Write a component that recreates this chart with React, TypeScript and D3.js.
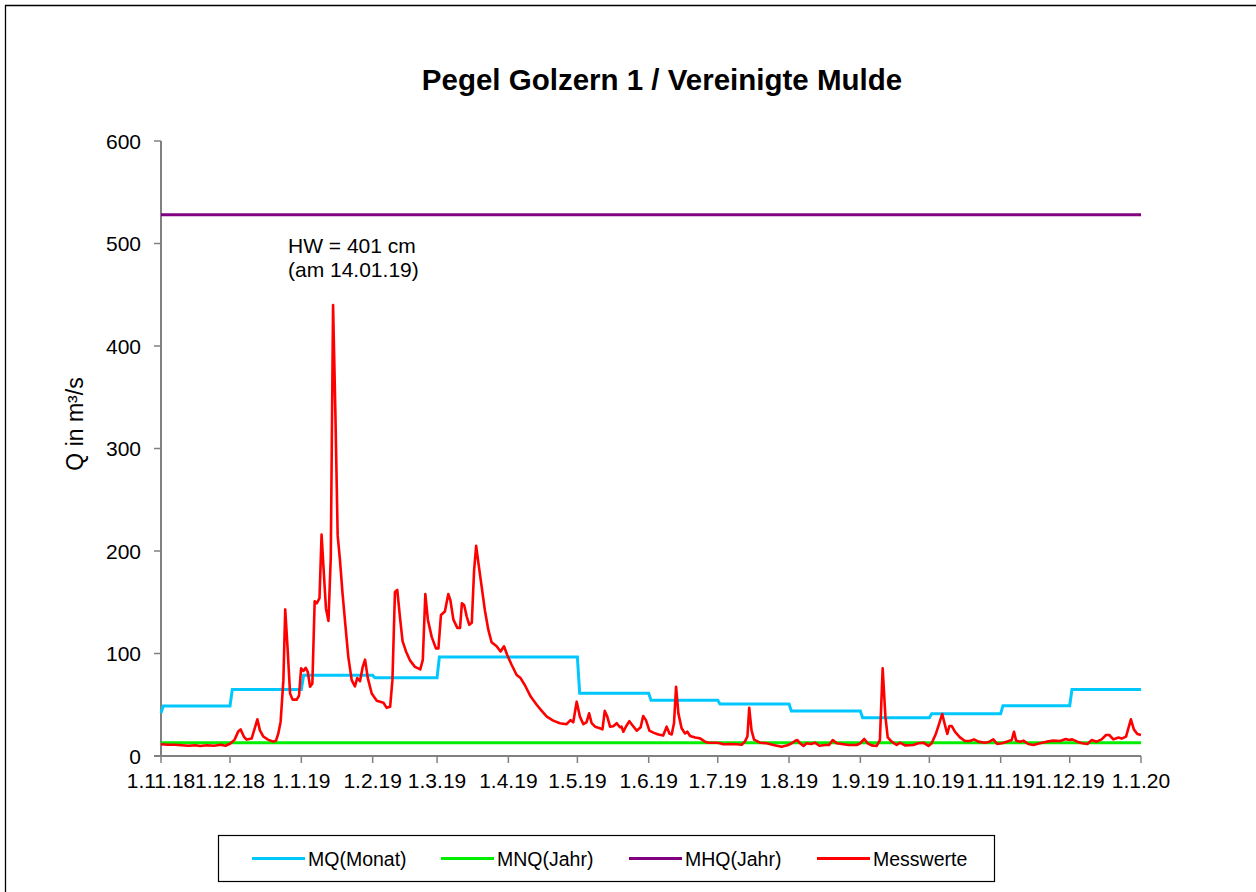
import React, { useEffect } from "react";
import * as d3 from "d3";

// ---------- data ----------
const titel = "Pegel Golzern 1 / Vereinigte Mulde";
const yTitel = "Q in m³/s";
const annotation = ["HW = 401 cm", "(am 14.01.19)"];

const yTicks = [0, 100, 200, 300, 400, 500, 600];
const xTickLabels = [
  "1.11.18", "1.12.18", "1.1.19", "1.2.19", "1.3.19", "1.4.19", "1.5.19",
  "1.6.19", "1.7.19", "1.8.19", "1.9.19", "1.10.19", "1.11.19", "1.12.19", "1.1.20",
];

// MQ (Monat): value of previous month, then Nov 2018 .. Dec 2019
const mqVorwert = 42;
const mqWerte = [48.8, 65, 78.7, 76.4, 96.5, 96.5, 61.1, 54.5, 50.8, 43.9, 37.4, 41.3, 49.1, 65];
const mnqWert = 13;
const mhqWert = 528;

// Messwerte: days since 1.11.18 and discharge readings
const messTage = [
  0, 3, 6, 9, 12, 15, 17, 20, 23, 26, 28, 29.5,
  30, 32, 33.6, 34.6, 36, 37.2, 39.4, 41.9, 43, 44.5, 46.5, 48.8, 50, 51, 52, 53.2, 54, 55, 56.1, 57.2, 59, 60,
  60.9, 61.9, 62.9, 63.8, 64.8, 65.8, 66.8, 67.7, 68.9, 69.8, 70.8, 71.7, 72.8, 73.8, 74.8, 75.8, 76.8, 77.8,
  78.9, 80.1, 81.4, 82.9, 84.3, 85.3, 86.5, 87.7, 88.7, 89.9, 91.6, 93.8, 95.2, 96.7, 98.1, 99.6, 100.6,
  101.7, 102.7, 103.9, 105, 106.5, 108.3, 110.4, 112.7, 113.8, 114.9, 116, 117.7, 119.5, 120.6, 121.7,
  123.4, 124.9, 125.8, 127.1, 128.8, 130, 130.8, 131.8, 132.9, 134, 135.1, 136.1, 137, 138, 139.4, 140.8,
  142.3, 143.7, 145.9, 147.6, 149.1, 150.5, 152.4, 154.6, 156.3, 158.2, 160.7, 163.3, 165.5, 167.7, 170.5,
  173.4, 176.3, 178, 179.2, 180.7, 182.1, 183.6, 185, 186.1, 187.2, 188.7, 190.8, 191.9, 192.9, 194, 195.2,
  196.6, 198.1, 199.5, 200.2, 201, 202.2, 203.6, 204.9, 206.8, 208.5, 209.6, 210.8, 212.3, 214, 216.2,
  218.3, 219.8, 221, 222, 223, 223.9, 224.9, 226.3, 227.8, 228.8, 230, 232.2, 234.3, 236.5, 238, 241.5,
  243, 244.4, 247.3, 250.2, 252.4, 253.8, 254.9, 255.7, 256.7, 257.8, 260.4, 263.3, 266.2, 269.8, 272.3,
  274.2, 275.6, 276.6, 277.8, 279.3, 280.7, 282.5, 284.3, 286.2, 288.6, 290.4, 292, 293.7, 295.9, 298.8,
  302.4, 303.9, 305.7, 307.2, 308.9, 311.1, 312.5, 313.7, 314.9, 315.9, 317.6, 319.8, 321.2, 323.4, 327,
  329.2, 331.4, 333.6, 335, 336.9, 338.3, 339.6, 340.8, 341.8, 342.7, 343.7, 345.1, 347.3, 349.5, 351.6,
  353.4, 355.3, 358.2, 360.1, 361.8, 363.5, 365.5, 367.6, 369.8, 370.8, 371.7, 373.4, 374.9, 377, 379.2,
  382.1, 385, 387.9, 390.8, 393.3, 394.7, 396.1, 398.3, 400.5, 402.7, 404.6, 406.7, 408.9, 410.8, 412.2,
  414, 416.2, 417.6, 419.5, 420.5, 421.6, 422.9, 424.4, 426,
];
const messWerte = [
  11.5, 11, 11, 10.5, 10, 10.5, 9.8, 10.5, 10, 11, 10, 11.5,
  12, 16, 24, 26, 19, 16, 17, 35.8, 25, 19, 16, 14, 15, 22, 33.5, 74, 143, 106, 61, 55, 55, 59,
  85.5, 83, 86, 82, 67.6, 70.8, 151, 149, 154, 216, 178, 144, 131.7, 194, 440, 335, 215, 191,
  159, 129, 97, 74, 68, 76, 73, 87, 94, 76, 61, 54, 53, 52, 47, 48, 74,
  160, 162, 135, 112, 102, 93, 87, 84.5, 93.7, 158, 133, 116, 105, 105, 137.6,
  141, 158, 152, 133, 125, 125, 149, 147, 136, 128, 130, 181, 205, 188, 165, 142,
  123, 111, 107, 102, 107, 98.5, 89, 79, 76, 69, 58, 50, 44, 38.4, 34.5,
  32, 31, 35, 33, 53, 38.4, 31, 33, 41.6, 32, 28.6, 27, 26, 44, 38.4, 28.6,
  29, 32, 28, 28.6, 23.7, 29, 34, 30, 24.7, 28, 39, 35, 24.7, 22.8, 21,
  20, 28.6, 22, 21, 32, 67.6, 41.6, 27, 22, 23.7, 19.5, 18, 17.2, 14, 13, 13,
  12.4, 11.4, 11.7, 11.4, 11, 14, 19, 47, 25, 16, 13, 12.4, 10.7, 9.1, 10.4,
  12.4, 14.6, 15.6, 12.4, 9.8, 12.4, 11.7, 13, 10, 10.7, 10.7, 15.6, 12.4, 11.7, 10.7,
  10.7, 12.4, 16.6, 12.4, 10.4, 9.8, 15.6, 85.5, 38.4, 18.2, 14, 10.7, 13, 10.4, 10.7,
  12.4, 13, 9.8, 12.4, 22, 31.9, 41, 30, 21.5, 29.3, 29.3, 23.7, 18.2, 14.6, 14.6,
  16.2, 14, 13, 14, 16.2, 11.7, 12.4, 14, 15.6, 23.7, 15, 14, 15, 11.7, 10.7,
  12.4, 14, 15, 14.6, 16.6, 15.6, 16.2, 14, 12.4, 11.7, 15.6, 14, 16.2, 20.5, 20.5,
  16.2, 18, 17, 18.9, 27, 35.8, 26, 21.5, 20.5,
];

const legendEintraege = ["MQ(Monat)", "MNQ(Jahr)", "MHQ(Jahr)", "Messwerte"];
const farben = ["#00c8ff", "#00ee00", "#800080", "#ff0000"];

// ---------- chart ----------
const W = 1256;
const H = 892;
const FONT = "'Liberation Sans', Arial, Helvetica, sans-serif";
const DAY = 864e5;
const START = new Date(Date.UTC(2018, 10, 1));
const END = new Date(Date.UTC(2020, 0, 1));

export default function App() {
  useEffect(() => {
    document.body.style.margin = "0";
  }, []);

  const x = d3.scaleUtc().domain([START, END]).range([161, 1141]);
  const y = d3.scaleLinear().domain([0, 600]).range([756, 141]);
  const dayToDate = (d: number) => new Date(START.getTime() + d * DAY);

  const monthStarts = d3.utcMonth.range(START, new Date(END.getTime() + DAY));

  type P = { t: Date; v: number };
  const line = d3
    .line<P>()
    .x((p) => x(p.t))
    .y((p) => y(p.v));

  // MQ step line
  const mqPts: P[] = [{ t: START, v: mqVorwert }];
  mqWerte.forEach((v, i) => {
    const s = monthStarts[i];
    const e = monthStarts[i + 1] || END;
    mqPts.push({ t: new Date(s.getTime() + DAY), v });
    mqPts.push({ t: e, v });
  });

  const mnqPts: P[] = [{ t: START, v: mnqWert }, { t: END, v: mnqWert }];
  const mhqPts: P[] = [{ t: START, v: mhqWert }, { t: END, v: mhqWert }];
  const messPts: P[] = messTage.map((d, i) => ({ t: dayToDate(d), v: messWerte[i] }));

  const axisColor = "#808080";

  const legendX = [252, 441, 629, 817];

  return (
    <div style={{ position: "absolute", left: 0, top: 0 }}>
      <svg width={W} height={H} style={{ display: "block", fontFamily: FONT }}>
        <rect x={0} y={0} width={W} height={H} fill="#fff" />
        {/* outer frame */}
        <path d={`M5.5,${H + 5} V5.5 H${W + 5}`} fill="none" stroke="#000" strokeWidth={1.3} />

        {/* title */}
        <text x={662} y={90} textAnchor="middle" fontSize={29.5} fontWeight="bold" fill="#000">
          {titel}
        </text>

        {/* y axis title */}
        <text
          transform={`translate(83,424) rotate(-90)`}
          textAnchor="middle"
          fontSize={23}
          fill="#000"
        >
          {yTitel}
        </text>

        {/* axes */}
        <line x1={161} x2={161} y1={y(600)} y2={y(0)} stroke={axisColor} strokeWidth={2} />
        <line x1={154} x2={x(END)} y1={y(0)} y2={y(0)} stroke={axisColor} strokeWidth={2} />
        {yTicks.map((t) => (
          <g key={"y" + t}>
            <line x1={154} x2={161} y1={y(t)} y2={y(t)} stroke={axisColor} strokeWidth={1.5} />
            <text x={141} y={y(t) + 7.5} textAnchor="end" fontSize={21} fill="#000">
              {t}
            </text>
          </g>
        ))}
        {monthStarts.map((m, i) => (
          <g key={"x" + i}>
            <line x1={x(m)} x2={x(m)} y1={y(0)} y2={y(0) + 7} stroke={axisColor} strokeWidth={1.5} />
            <text x={x(m)} y={788} textAnchor="middle" fontSize={21} fill="#000">
              {xTickLabels[i]}
            </text>
          </g>
        ))}

        {/* series */}
        <path d={line(mhqPts) || ""} fill="none" stroke={farben[2]} strokeWidth={3} />
        <path d={line(mqPts) || ""} fill="none" stroke={farben[0]} strokeWidth={3} />
        <path d={line(mnqPts) || ""} fill="none" stroke={farben[1]} strokeWidth={3} />
        <path
          d={line(messPts) || ""}
          fill="none"
          stroke={farben[3]}
          strokeWidth={2.6}
          strokeLinejoin="round"
        />

        {/* annotation */}
        <text x={288} y={253} fontSize={21} fill="#000">
          {annotation[0]}
        </text>
        <text x={288} y={277} fontSize={21} fill="#000">
          {annotation[1]}
        </text>

        {/* legend */}
        <rect x={218.5} y={835.5} width={776} height={46} fill="#fff" stroke="#000" strokeWidth={1.2} />
        {legendEintraege.map((name, i) => (
          <g key={name}>
            <line
              x1={legendX[i]}
              x2={legendX[i] + 53}
              y1={858.5}
              y2={858.5}
              stroke={farben[i]}
              strokeWidth={3}
            />
            <text x={legendX[i] + 56} y={865.5} fontSize={19.5} fill="#000">
              {name}
            </text>
          </g>
        ))}
      </svg>
    </div>
  );
}
